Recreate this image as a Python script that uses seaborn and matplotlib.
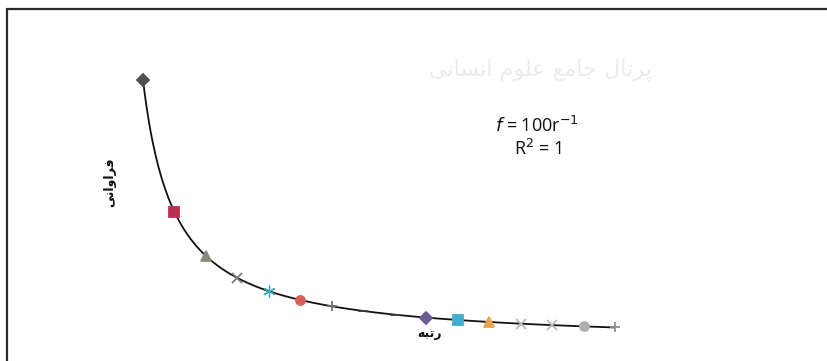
import numpy as np
import pandas as pd
import matplotlib
matplotlib.use("Agg")
import matplotlib.pyplot as plt
from matplotlib.lines import Line2D
import seaborn as sns

# rank / frequency data (Zipf-like)
rank = [1, 2, 3, 4, 5, 6, 7, 8, 9, 10, 11, 12, 13, 14, 15, 16]
freq = [100, 50, 33.3, 25, 20, 16.7, 14.3, 12.5, 11.1, 10, 9.1, 8.3, 7.7, 7.1, 6.7, 6.25]
markers = ["D", "s", "^", "x", (6, 2, 0), "o", "+", "_", "_", "D", "s", "^", "x", "x", "o", "+"]
colors = ["#505050", "#b8304f", "#8a8a78", "#7a7a7a", "#3aa9b9", "#d9605a", "#707070", "#404040",
          "#404040", "#6a5a92", "#3fb1cf", "#e9a44c", "#b9b9b9", "#b9b9b9", "#b0b0b0", "#909090"]

# Persian labels in presentation forms (visual order) since matplotlib does no shaping
def shape(glyphs):
    return glyphs[::-1]

ylab = shape("\uFED3\uFEAE\uFE8D\uFEED\uFE8D\uFEE7\uFBFD")   # فراوانی
xlab = shape("\uFEAD\uFE97\uFE92\uFEEA")                     # رتبه
watermark = shape("\uFB58\uFEAE\uFE97\uFE8E\uFEDD \uFE9F\uFE8E\uFEE3\uFECA "
                  "\uFECB\uFEE0\uFEEE\uFEE1 \uFE8D\uFEE7\uFEB4\uFE8E\uFEE7\uFBFD")

sns.set_style("white")
plt.rcParams["font.family"] = ["DejaVu Sans", "Noto Sans"]

fig = plt.figure(figsize=(8.28, 3.61), dpi=100)
ax = fig.add_axes([0, 0, 1, 1])

# power trendline fitted from the data
b, a = np.polyfit(np.log(rank), np.log(freq), 1)
rr = np.linspace(rank[0], rank[-1], 300)
trend = pd.DataFrame({"r": rr, "f": np.exp(a) * rr ** b})
sns.lineplot(data=trend, x="r", y="f", ax=ax, color="#111111", lw=1.3, zorder=2)

for r, f, m, c in zip(rank, freq, markers, colors):
    star = m == (6, 2, 0)
    ax.plot(r, f, marker=m, color=c, ms=9 if star else 6.5, mew=0.9 if star else 1.3,
            ls="none", zorder=3)

ax.set_xlim(-3.54, 22.75)
ax.set_ylim(-6.44, 130.3)
ax.axis("off")

# frame of the chart area
fig.add_artist(Line2D([7 / 828, 7 / 828], [0, 1 - 9 / 361], transform=fig.transFigure,
                      color="#2a2a2a", lw=1.6))
fig.add_artist(Line2D([7 / 828, 1], [1 - 9 / 361, 1 - 9 / 361], transform=fig.transFigure,
                      color="#2a2a2a", lw=1.6))

# faint watermark
fig.text(540 / 828, 1 - 70 / 361, watermark, ha="center", va="center", fontsize=16,
         color="#ebebeb", zorder=0)

fig.text(110 / 828, 1 - 182 / 361, ylab, rotation=90, ha="center", va="center",
         fontsize=9, fontweight="bold", color="#111111")
fig.text(430 / 828, 1 - 334 / 361, xlab, ha="center", va="center",
         fontsize=9, fontweight="bold", color="#111111")

fig.text(537 / 828, 1 - 126 / 361, "$f$ = 100r$^{-1}$", ha="center", va="center",
         fontsize=13, color="#111111", family="Open Sans")
fig.text(538 / 828, 1 - 149 / 361, "R$^2$ = 1", ha="center", va="center",
         fontsize=13, color="#111111", family="Open Sans")

fig.savefig("out.png", dpi=100)
